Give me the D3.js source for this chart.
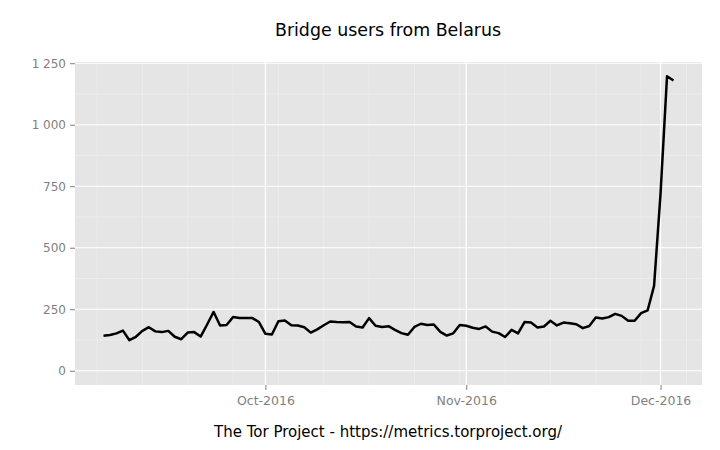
<!DOCTYPE html>
<html><head><meta charset="utf-8">
<script src="https://cdn.jsdelivr.net/npm/d3@7"></script>
<style>body{margin:0;background:#fff}svg{display:block}text{font-family:"DejaVu Sans",sans-serif}</style>
</head><body>
<svg id="c" width="720" height="450"></svg>
<script>
const startDate = "2016-09-06";
const users = [142,145,152,163,124,138,162,177,160,157,162,138,128,155,157,139,188,239,184,186,
218,214,214,214,198,150,147,201,204,185,184,177,155,168,185,200,198,197,198,180,
176,214,183,178,181,166,153,146,178,191,186,188,158,143,152,186,183,175,170,180,
159,153,137,166,152,198,196,176,180,203,184,196,193,189,173,182,216,212,218,231,
223,203,203,234,245,345,720,1197,1180];
const yTicks = [0,250,500,750,1000,1250];
const yMinor = [125,375,625,875,1125];
const titleText = "Bridge users from Belarus";
const captionText = "The Tor Project - https://metrics.torproject.org/";

const parse = d3.utcParse("%Y-%m-%d");
const d0 = parse(startDate);
const data = users.map((v,i)=>({date:d3.utcDay.offset(d0,i), v}));

const svg = d3.select("#c");
const L=75,R=702,T=62,B=385;
const ext = d3.extent(data,d=>+d.date);
const pad = (ext[1]-ext[0])*0.05;
const x = d3.scaleUtc().domain([new Date(ext[0]-pad), new Date(ext[1]+pad)]).range([L,R]);
const y = d3.scaleLinear().domain([-58,1255]).range([B,T]);

svg.append("rect").attr("x",L).attr("y",T).attr("width",R-L).attr("height",B-T).attr("fill","#E5E5E5");

const g = svg.append("g");
const xMinor = d3.utcMonday.range(x.domain()[0], x.domain()[1]);
const xMajor = d3.utcMonth.range(x.domain()[0], x.domain()[1]);
g.selectAll(".ym").data(yMinor).join("line").attr("x1",L).attr("x2",R)
 .attr("y1",d=>y(d)).attr("y2",d=>y(d)).attr("stroke","#F2F2F2").attr("stroke-width",0.6);
g.selectAll(".xm").data(xMinor).join("line").attr("y1",T).attr("y2",B)
 .attr("x1",d=>x(d)).attr("x2",d=>x(d)).attr("stroke","#F2F2F2").attr("stroke-width",0.6);
g.selectAll(".yM").data(yTicks).join("line").attr("x1",L).attr("x2",R)
 .attr("y1",d=>y(d)).attr("y2",d=>y(d)).attr("stroke","#fff").attr("stroke-width",1.2);
g.selectAll(".xM").data(xMajor).join("line").attr("y1",T).attr("y2",B)
 .attr("x1",d=>x(d)).attr("x2",d=>x(d)).attr("stroke","#fff").attr("stroke-width",1.2);

svg.append("path").datum(data)
 .attr("d", d3.line().x(d=>x(d.date)).y(d=>y(d.v)))
 .attr("fill","none").attr("stroke","#000").attr("stroke-width",2.5).attr("stroke-linejoin","round");

const loc = d3.formatLocale({decimal:".",thousands:" ",grouping:[3],currency:["",""]});
const yFmt = loc.format(",d");
const yAxis = d3.axisLeft(y).tickValues(yTicks).tickFormat(yFmt).tickSize(5).tickPadding(4);
const ya = svg.append("g").attr("transform",`translate(${L},0)`).call(yAxis);
ya.select(".domain").remove();
ya.selectAll("line").attr("stroke","#7F7F7F");
ya.selectAll("text").attr("fill","#7F7F7F").style("font-size","12px").style("font-family","DejaVu Sans");

const xAxis = d3.axisBottom(x).tickValues(xMajor).tickFormat(d3.utcFormat("%b-%Y")).tickSize(5).tickPadding(6);
const xa = svg.append("g").attr("transform",`translate(0,${B})`).call(xAxis);
xa.select(".domain").remove();
xa.selectAll("line").attr("stroke","#7F7F7F");
xa.selectAll("text").attr("fill","#7F7F7F").style("font-size","12.5px").style("font-family","DejaVu Sans");

svg.append("text").attr("x",388).attr("y",36).attr("text-anchor","middle")
 .style("font-size","17.4px").attr("fill","#000").text(titleText);
svg.append("text").attr("x",388).attr("y",437).attr("text-anchor","middle")
 .style("font-size","15px").attr("fill","#000").text(captionText);
</script>
</body></html>
